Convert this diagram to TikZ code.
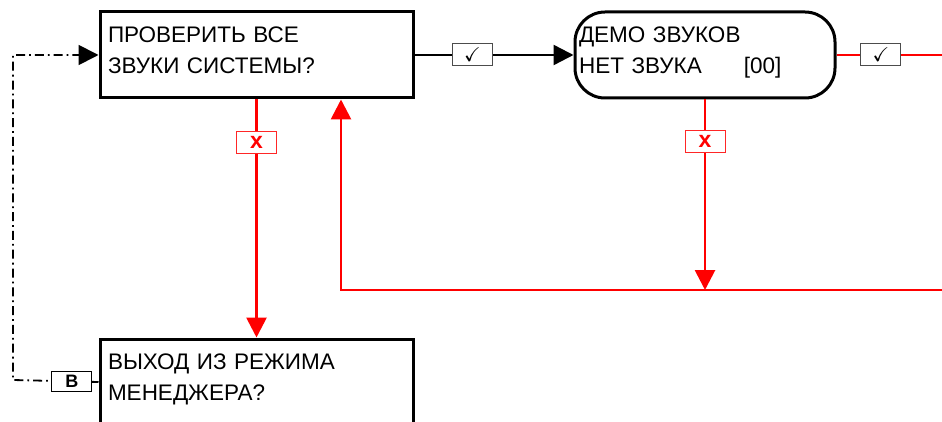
\documentclass[tikz,border=0pt]{standalone}
\usepackage{fontspec}
\setmainfont{Liberation Sans}
\usepackage{amssymb}
\usetikzlibrary{arrows.meta,calc}
\newcommand{\lowstrut}{\rule[-10pt]{0pt}{10pt}}
\begin{document}
\begin{tikzpicture}[x=1pt,y=-1pt,
  box/.style={draw=black,line width=3pt,minimum width=313pt,minimum height=86pt,text width=297pt,align=left,inner xsep=8pt,font=\fontsize{22.5}{31}\selectfont},
  rbox/.style={box,rounded corners=30pt,minimum width=260pt,text width=252pt,inner xsep=4pt},
  ok/.style={draw=black!70,line width=1pt,fill=white,minimum width=40pt,minimum height=22pt,inner sep=0pt,font=\fontsize{20}{20}\selectfont},
  no/.style={draw=red!85,line width=1pt,fill=white,minimum width=40pt,minimum height=22pt,inner sep=0pt,text=red,font=\fontsize{23}{23}\selectfont\bfseries},
  bk/.style={draw=black,line width=1pt,fill=white,minimum width=40pt,minimum height=20pt,inner sep=0pt,font=\fontsize{18}{18}\selectfont\bfseries},
  blk/.style={line width=2.4pt,draw=black},
  redl/.style={line width=2.8pt,draw=red},
  tip/.style={-{Triangle[length=20pt,width=20pt]}},
  dd/.style={line width=1.8pt,dash pattern=on 9pt off 4pt on 1.8pt off 4pt}
]
\useasboundingbox (0,0) rectangle (942,422);
\clip (0,0) rectangle (942,422);
\node[box] (b1) at (256.5,55) {ПРОВЕРИТЬ ВСЕ\\ЗВУКИ СИСТЕМЫ?\lowstrut};
\node[rbox] (b2) at (705,55) {ДЕМО ЗВУКОВ\\НЕТ ЗВУКА\hspace{42pt}[00]\lowstrut};
\node[box,anchor=north] (b3) at (256.5,337.5) {ВЫХОД ИЗ РЕЖИМА\\МЕНЕДЖЕРА?\lowstrut};
\coordinate (e1) at (945,55);
\coordinate (j) at (705,290);
\coordinate (e2) at (945,290);
\coordinate (c1) at (341,290);
\coordinate (l1) at (13,380);
\draw[blk,tip] (b1.east) -- node[ok,pos=0.364]{$\checkmark$} (b2.west);
\draw[redl] (b2.east) -- node[ok,pos=0.41]{$\checkmark$} (e1);
\draw[redl,tip] (b1.south) -- node[no,pos=0.18]{x} (b3.north);
\draw[redl,tip] (b2.south) -- node[no,pos=0.22]{x} (j);
\draw[redl,tip] (e2) -- (c1) -- (c1 |- b1.south);
\draw[dd,-{Triangle[length=20pt,width=20pt]}] (b3.west) -- node[bk,pos=0.31,solid]{B} (l1) |- (b1.west);
\end{tikzpicture}
\end{document}
